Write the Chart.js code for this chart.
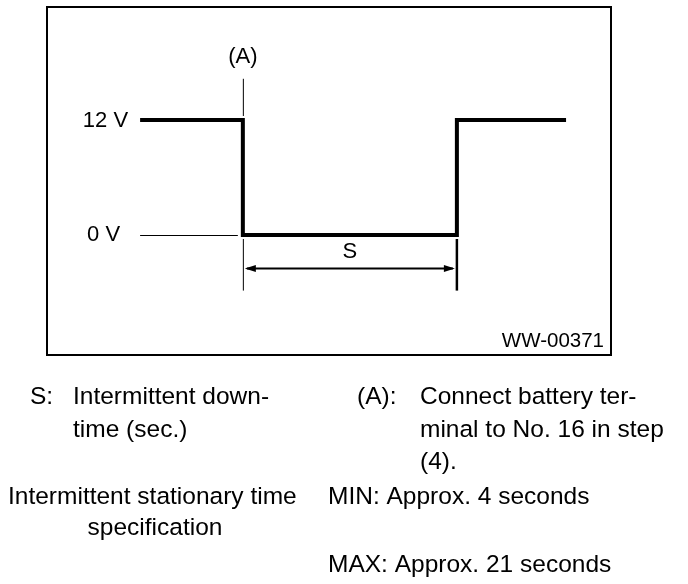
<!DOCTYPE html>
<html>
<head>
<meta charset="utf-8">
<script src="https://cdn.jsdelivr.net/npm/chart.js@4.4.1/dist/chart.umd.min.js"></script>
<style>
  html, body { margin: 0; padding: 0; background: #fff; }
  #wrap { width: 688px; height: 584px; }
</style>
</head>
<body>
<div id="wrap"><canvas id="pulseChart" width="688" height="584"></canvas></div>
<script>
// waveform: 12 V, drops to 0 V at (A), back to 12 V after S
const times = [0, 4.8, 14.8, 19.9];
const volts = [12, 0, 12, 12];
const levelValues = [12, 0];
const levelLabels = ["12 V", "0 V"];
const markA = 4.8;
const markS = [4.8, 14.8];

const FONT = "'Liberation Sans', Arial, Helvetica, sans-serif";

// dit semua anotasi + kotak + teks keterangan
const diagramPlugin = {
    id: "diagram",
    afterDatasetsDraw(chart) {
        const { ctx, chartArea: a, scales } = chart;
        const x = scales.x, y = scales.y;
        const y12 = y.getPixelForValue(12);
        const y0 = y.getPixelForValue(0);
        const xA = x.getPixelForValue(markA);
        const xS1 = x.getPixelForValue(markS[0]);
        const xS2 = x.getPixelForValue(markS[1]);
        const x0 = x.getPixelForValue(times[0]);

        ctx.save();
        ctx.strokeStyle = "#000";
        ctx.fillStyle = "#000";

        // frame
        ctx.lineWidth = 2;
        ctx.strokeRect(a.left, a.top, a.right - a.left, a.bottom - a.top);

        // thin lines
        ctx.lineWidth = 1;
        ctx.beginPath();
        ctx.moveTo(x0, y0 + 0.5);
        ctx.lineTo(xA - 5, y0 + 0.5);
        ctx.moveTo(xA + 0.5, y.getPixelForValue(16.3));
        ctx.lineTo(xA + 0.5, y12 - 4);
        ctx.moveTo(xS1 + 0.5, y0 + 4);
        ctx.lineTo(xS1 + 0.5, y.getPixelForValue(-5.8));
        ctx.stroke();
        ctx.lineWidth = 2.5;
        ctx.beginPath();
        ctx.moveTo(xS2, y0 + 4);
        ctx.lineTo(xS2, y.getPixelForValue(-5.8));
        ctx.stroke();

        // arrow S
        const yArr = y.getPixelForValue(-3.5);
        ctx.lineWidth = 2;
        ctx.beginPath();
        ctx.moveTo(xS1 + 4, yArr);
        ctx.lineTo(xS2 - 4, yArr);
        ctx.stroke();
        ctx.beginPath();
        ctx.moveTo(xS1 + 2, yArr);
        ctx.lineTo(xS1 + 13, yArr - 3.5);
        ctx.lineTo(xS1 + 13, yArr + 3.5);
        ctx.closePath();
        ctx.moveTo(xS2 - 2, yArr);
        ctx.lineTo(xS2 - 13, yArr - 3.5);
        ctx.lineTo(xS2 - 13, yArr + 3.5);
        ctx.closePath();
        ctx.fill();

        // labels in the diagram
        ctx.font = "22px " + FONT;
        ctx.textBaseline = "middle";
        ctx.textAlign = "right";
        ctx.fillText(levelLabels[0], x0 - 12, y.getPixelForValue(levelValues[0]) + 1);
        ctx.fillText(levelLabels[1], x0 - 20, y.getPixelForValue(levelValues[1]));
        ctx.textAlign = "center";
        ctx.fillText("(A)", xA, y.getPixelForValue(18.6));
        ctx.fillText("S", (xS1 + xS2) / 2, y.getPixelForValue(-1.8));
        ctx.font = "20.5px " + FONT;
        ctx.textAlign = "right";
        ctx.fillText("WW-00371", a.right - 7, a.bottom - 14);

        // keterangan di bawah
        ctx.font = "24.5px " + FONT;
        ctx.textBaseline = "alphabetic";
        ctx.textAlign = "left";
        ctx.fillText("S:", 30, 404);
        ctx.fillText("Intermittent down-", 73, 404);
        ctx.fillText("time (sec.)", 73, 437);
        ctx.fillText("(A):", 357, 404);
        ctx.fillText("Connect battery ter-", 420, 404);
        ctx.fillText("minal to No. 16 in step", 420, 437);
        ctx.fillText("(4).", 420, 469);
        ctx.fillText("Intermittent stationary time", 8, 504);
        ctx.fillText("MIN: Approx. 4 seconds", 328, 504);
        ctx.fillText("MAX: Approx. 21 seconds", 328, 572);
        ctx.textAlign = "center";
        ctx.fillText("specification", 155, 535);
        ctx.restore();
    },
};

new Chart(document.getElementById("pulseChart").getContext("2d"), {
    type: "line",
    data: {
        datasets: [
            {
                label: "Voltage",
                data: times.map((t, i) => ({ x: t, y: volts[i] })),
                borderColor: "#000",
                borderWidth: 4,
                stepped: "before",
                pointRadius: 0,
                fill: false,
            },
        ],
    },
    options: {
        responsive: false,
        animation: false,
        events: [],
        layout: { padding: { left: 47, right: 77, top: 7, bottom: 229 } },
        plugins: {
            legend: { display: false },
            tooltip: { enabled: false },
        },
        scales: {
            x: { type: "linear", display: false, min: -4.35, max: 22.0 },
            y: { type: "linear", display: false, min: -12.52, max: 23.79 },
        },
    },
    plugins: [diagramPlugin],
});
</script>
</body>
</html>
